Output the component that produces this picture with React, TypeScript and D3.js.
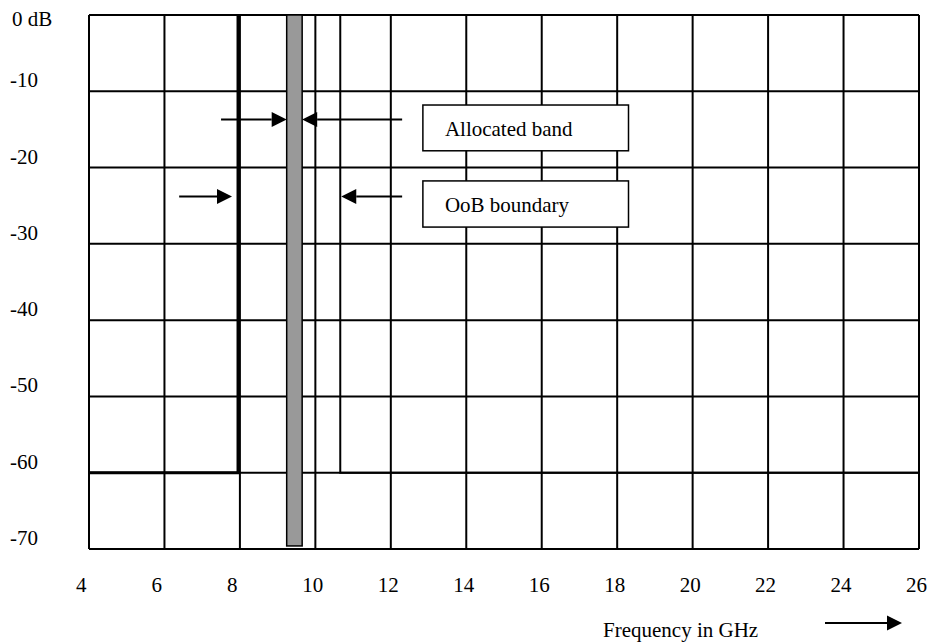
import React from "react";
import * as d3 from "d3";

const xTicks = [4, 6, 8, 10, 12, 14, 16, 18, 20, 22, 24, 26];
const yTicks = [0, -10, -20, -30, -40, -50, -60, -70];
const yTickLabels = ["0 dB", "-10", "-20", "-30", "-40", "-50", "-60", "-70"];
const allocatedBand = [9.24, 9.65];
const bandFloor = -69.6;
const oobLower = 7.95;
const oobUpper = 10.66;
const maskLevel = -60;
const maskLeft: [number, number][] = [[4, maskLevel], [oobLower, maskLevel], [oobLower, 0]];
const maskRight: [number, number][] = [[oobUpper, 0], [oobUpper, maskLevel], [26, maskLevel]];
const boxLabels = ["Allocated band", "OoB boundary"];
const xAxisTitle = "Frequency in GHz";

const W = 929, H = 642;
const x = d3.scaleLinear().domain([4, 26]).range([89, 919]);
const y = d3.scaleLinear().domain([0, -70]).range([15, 549]);
const line = d3.line<[number, number]>().x(d => x(d[0])).y(d => y(d[1]));

const FONT = "'Liberation Serif', 'Times New Roman', serif";
const FS = 21;

function Arrow({ x1, x2, yy }: { x1: number; x2: number; yy: number }) {
  const dir = Math.sign(x2 - x1);
  const hl = 15, hw = 7.5;
  const bx = x2 - dir * hl;
  return (
    <g>
      <line x1={x1} y1={yy} x2={bx} y2={yy} stroke="#000" strokeWidth={2} />
      <path d={`M${x2},${yy} L${bx},${yy - hw} L${bx},${yy + hw} Z`} fill="#000" />
    </g>
  );
}

export default function App() {
  const yA = y(-13.7);
  const yO = y(-23.8);
  const boxX0 = x(12.85), boxX1 = x(18.3);
  return (
    <svg width={W} height={H} style={{ position: "absolute", left: 0, top: 0, background: "#fff" }}>
      <rect x={0} y={0} width={W} height={H} fill="#fff" />
      {xTicks.map(t => (
        <line key={"vx" + t} x1={x(t)} x2={x(t)} y1={y(0)} y2={y(-70)} stroke="#000" strokeWidth={2} />
      ))}
      {yTicks.map(t => (
        <line key={"hy" + t} x1={x(4)} x2={x(26)} y1={y(t)} y2={y(t)} stroke="#000" strokeWidth={2} />
      ))}
      <rect x={x(allocatedBand[0])} y={y(0)} width={x(allocatedBand[1]) - x(allocatedBand[0])}
        height={y(bandFloor) - y(0)} fill="#999999" stroke="#000" strokeWidth={1.5} />
      <path d={line(maskLeft) || ""} fill="none" stroke="#000" strokeWidth={3} />
      <path d={line(maskRight) || ""} fill="none" stroke="#000" strokeWidth={2} />
      <Arrow x1={x(7.5)} x2={x(allocatedBand[0])} yy={yA} />
      <Arrow x1={x(12.3)} x2={x(allocatedBand[1])} yy={yA} />
      <Arrow x1={x(6.39)} x2={x(oobLower) - 6} yy={yO} />
      <Arrow x1={x(12.3)} x2={x(oobUpper) + 1} yy={yO} />
      {boxLabels.map((lab, i) => {
        const top = i === 0 ? y(-11.8) : y(-21.75);
        const bot = i === 0 ? y(-17.8) : y(-27.8);
        return (
          <g key={lab}>
            <rect x={boxX0} y={top} width={boxX1 - boxX0} height={bot - top} fill="#fff" stroke="#000" strokeWidth={1.5} />
            <text x={boxX0 + 22} y={bot - 15} fontFamily={FONT} fontSize={FS} fill="#000">{lab}</text>
          </g>
        );
      })}
      {yTicks.map((t, i) => (
        <text key={"yl" + t} x={i === 0 ? 12 : 10} y={i === 0 ? 26 : y(t) - 4} fontFamily={FONT} fontSize={FS} fill="#000">
          {yTickLabels[i]}
        </text>
      ))}
      {xTicks.map(t => (
        <text key={"xl" + t} x={x(t) - 13} y={592} fontFamily={FONT} fontSize={FS} fill="#000">{t}</text>
      ))}
      <text x={603} y={637} fontFamily={FONT} fontSize={FS} fill="#000">{xAxisTitle}</text>
      <Arrow x1={825} x2={902} yy={623} />
    </svg>
  );
}
